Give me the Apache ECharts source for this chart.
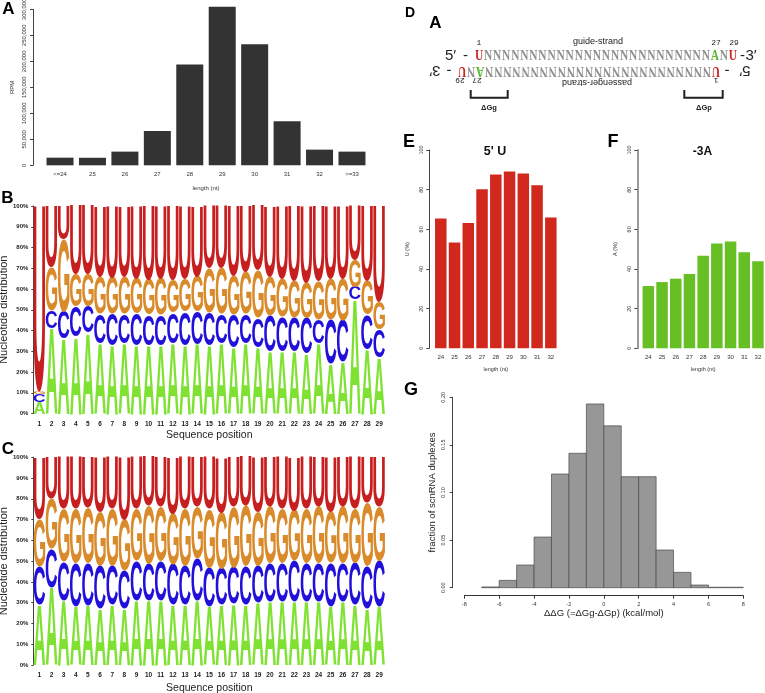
<!DOCTYPE html>
<html><head><meta charset="utf-8">
<script src="https://cdn.jsdelivr.net/npm/echarts@6/dist/echarts.min.js"></script>
<style>html,body{margin:0;padding:0;background:#fff}#c{width:765px;height:693px}</style>
</head><body><div id="c"></div>
<script>
// ---------------- DATA ----------------
const lengthCats = ['<=24','25','26','27','28','29','30','31','32','>=33'];
const rpmValues = [14700,14500,26300,66000,194000,305000,233000,84600,30100,26300];

const seqPositions = ['1','2','3','4','5','6','7','8','9','10','11','12','13','14','15','16','17','18','19','20','21','22','23','24','25','26','27','28','29'];
const nucleotides = ['A','C','G','U'];
// Panel B nucleotide percentages per position
const logoB_A = [5.5,41,36,37,39,34,33,34,33,33,33,34,33,33.5,33,34,32,34,32,30,30,30,29,34,24,25,55,31,27];
const logoB_C = [3.8,8.5,13,14.5,12.5,14,15,14,15,14.5,14.5,14.5,16,15.5,15.5,14,15.5,14,14,17,16.5,16.5,17,11.5,21.5,20,6,16.5,13.5];
const logoB_G = [1.2,21,35,15.5,15.5,18,17.5,18,17,17,17.5,16,16,17,21.5,22,19,20,23,19,18.5,17.5,17,18.5,19.5,20,13,16.5,13];
const logoB_U = [89.5,29.5,16,33,33,34,34.5,34,35,35.5,35,35.5,35,34,30,30,33.5,32,31,34,35,36,37,36,35,35,26,36,46.5];
// Panel C nucleotide percentages per position
const logoC_A = [29,37.5,31,28,28.5,27,29,27,31,31,31,29,29,31,28,29,29.5,29,30,30.5,30.5,30.5,30.5,30.5,28,30.5,29,27,28];
const logoC_C = [18.5,18.5,18.5,21,20.5,21,19,18.5,19,17.5,19,19.5,19,20,19,17.5,17.5,18.5,18,18.5,18.5,19.5,18.5,18.5,21,18.5,20,20.5,22];
const logoC_G = [23,24,25.5,26,26.5,26,27,24.5,25,28,26,24.5,27,25,28,27,29,29,26,27,26,24.5,26,27,25,27,26,30.5,26];
const logoC_U = [29.5,20,25,25,24.5,26,25,30,25,23.5,24,27,25,24,25,26.5,24,23.5,26,24,25,25.5,25,24,26,24,25,22,24];

const lenCatsEF = ['24','25','26','27','28','29','30','31','32'];
const fiveU = [65.5,53.4,63.2,80.2,87.7,89.1,88.1,82.2,66.0];
const minus3A = [31.4,33.4,35.1,37.5,46.7,52.9,53.8,48.4,43.9];

const ddgBinStart = [-7,-6,-5,-4,-3,-2,-1,0,1,2,3,4,5,6,7];
const ddgFraction = [0.0008,0.0077,0.0238,0.0532,0.1194,0.1412,0.193,0.170,0.1166,0.1166,0.0396,0.0161,0.0028,0.0005,0.0005];

const guideSeq = 'U' + 'N'.repeat(25) + 'ANU';
const passengerSeq = 'U' + 'N'.repeat(25) + 'ANU';

// ---------------- STYLE ----------------
const FF = 'Liberation Sans';
const ntColors = ['#7fe233','#2110da','#d98b2b','#c71f1f'];
const LOGO_FONT = 'bold 100px "Liberation Sans"';
const mc = document.createElement('canvas').getContext('2d');
const ink = {};
nucleotides.forEach(ch => {
  mc.font = LOGO_FONT; mc.textBaseline = 'middle'; mc.textAlign = 'left';
  const m = mc.measureText(ch);
  ink[ch] = {l: -m.actualBoundingBoxLeft, r: m.actualBoundingBoxRight, t: -m.actualBoundingBoxAscent, b: m.actualBoundingBoxDescent};
});

function logoItems(Aa, Cc, Gg, Uu) {
  const items = [];
  for (let i = 0; i < Aa.length; i++) {
    const vals = [Aa[i], Cc[i], Gg[i], Uu[i]];
    const tot = vals.reduce((a, b) => a + b, 0);
    let acc = 0;
    vals.forEach((v, k) => { const lo = acc / tot * 100; acc += v; items.push([i, lo, acc / tot * 100, k]); });
  }
  return items;
}
function logoRender(params, api) {
  const i = api.value(0), lo = api.value(1), hi = api.value(2), k = api.value(3);
  const band = api.size([1, 0])[0];
  const pLo = api.coord([i, lo]), pHi = api.coord([i, hi]);
  const w = band - 0.6, h = pLo[1] - pHi[1];
  if (h <= 0.2) return {type: 'group', children: []};
  const ch = nucleotides[k], b = ink[ch];
  const sx = w / (b.r - b.l), sy = h / (b.b - b.t);
  const left = pLo[0] - w / 2;
  return {type: 'text', x: left - b.l * sx, y: pHi[1] - b.t * sy, scaleX: sx, scaleY: sy,
    style: {text: ch, font: LOGO_FONT, fill: ntColors[k], align: 'left', verticalAlign: 'middle'}};
}
function histRender(params, api) {
  const x0 = api.value(0), h = api.value(1);
  const p0 = api.coord([x0, 0]), p1 = api.coord([x0 + 1, h]);
  return {type: 'rect', shape: {x: p0[0], y: p1[1], width: p1[0] - p0[0], height: p0[1] - p1[1]},
    style: {fill: '#979797', stroke: '#4a4a4a', lineWidth: 0.7}};
}

// ---------------- GRAPHIC TEXTS ----------------
const graphics = [];
function addText(txt, x, y, font, fill, extra) {
  graphics.push(Object.assign({type: 'text', x: x, y: y, silent: true,
    style: {text: txt, x: 0, y: 0, font: font, fill: fill, align: 'center', verticalAlign: 'middle'}}, extra || {}));
}
const bigBold = s => 'bold ' + s + 'px "Liberation Sans"';
addText('A', 8.5, 9.5, bigBold(17), '#000');
addText('B', 7.5, 198.5, bigBold(17), '#000');
addText('C', 8, 449.5, bigBold(17), '#000');
addText('D', 410, 13.3, bigBold(14), '#000');
addText('A', 435.5, 23.3, bigBold(17), '#000');
addText('E', 409, 141.7, bigBold(18), '#000');
addText('F', 613, 141.7, bigBold(18), '#000');
addText('G', 411, 390, bigBold(18), '#000');
addText("5' U", 495, 151.7, bigBold(12.5), '#111');
addText('-3A', 702.5, 152, bigBold(12), '#111');

// Panel D duplex diagram
const pitch = 9.07, topY = 56, botY = 70.5;
const ntFont = 'bold 15px "Liberation Serif"';
const ntCol = ch => ch === 'U' ? '#cf2222' : (ch === 'A' ? '#5dba2e' : '#8e8e8e');
for (let i = 0; i < guideSeq.length; i++) {
  addText(guideSeq[i], 479 + pitch * i, topY, ntFont, ntCol(guideSeq[i]), {scaleX: 0.76});
}
for (let i = 0; i < passengerSeq.length; i++) {
  addText(passengerSeq[i], 716 - pitch * i, botY, ntFont, ntCol(passengerSeq[i]), {scaleX: 0.76, rotation: Math.PI});
}
const endFont = '15px "Liberation Sans"';
addText('5\u2032', 450.5, topY, endFont, '#222');
addText('-', 465.5, topY, endFont, '#222');
addText('-', 742.5, topY, endFont, '#222');
addText('3\u2032', 751, topY, endFont, '#222');
addText('3\u2032', 435, botY, endFont, '#222', {rotation: Math.PI});
addText('-', 449, botY, endFont, '#222', {rotation: Math.PI});
addText('-', 727, botY, endFont, '#222', {rotation: Math.PI});
addText('5\u2032', 745, botY, endFont, '#222', {rotation: Math.PI});
const numFont = '8px "Liberation Mono"';
addText('1', 479, 43.3, numFont, '#222');
addText('27', 716, 43.3, numFont, '#222');
addText('29', 734, 43.3, numFont, '#222');
addText('29', 460, 80, numFont, '#222', {rotation: Math.PI});
addText('27', 477, 80, numFont, '#222', {rotation: Math.PI});
addText('1', 716, 80, numFont, '#222', {rotation: Math.PI});
addText('guide-strand', 598, 42, '9px "Liberation Sans"', '#222');
addText('passenger-strand', 597, 82, '9px "Liberation Sans"', '#222', {rotation: Math.PI});
graphics.push({type: 'polyline', silent: true, shape: {points: [[470.7, 90], [470.7, 97.7], [507.7, 97.7], [507.7, 90]]}, style: {stroke: '#222', lineWidth: 2, fill: null}});
graphics.push({type: 'polyline', silent: true, shape: {points: [[684.3, 90], [684.3, 97.7], [722.7, 97.7], [722.7, 90]]}, style: {stroke: '#222', lineWidth: 2, fill: null}});
addText('\u0394Gg', 489, 108.3, 'bold 7.5px "Liberation Sans"', '#222');
addText('\u0394Gp', 704, 108.3, 'bold 7.5px "Liberation Sans"', '#222');

// ---------------- AXES ----------------
const lab = (o) => Object.assign({fontFamily: FF, color: '#333'}, o);
const valueY = (gi, o) => Object.assign({
  type: 'value', gridIndex: gi,
  axisLine: {show: true, onZero: false, lineStyle: {color: '#444', width: 1}},
  axisTick: {show: true, inside: false, length: 3, lineStyle: {color: '#444'}},
  splitLine: {show: false}, nameLocation: 'middle'
}, o);
const catX = (gi, data, o) => Object.assign({
  type: 'category', gridIndex: gi, data: data,
  axisLine: {show: false}, axisTick: {show: false}, splitLine: {show: false}, nameLocation: 'middle'
}, o);

const gridBase = {containLabel: false, outerBoundsMode: 'none'};
const option = {
  animation: false,
  backgroundColor: '#fff',
  textStyle: {fontFamily: FF},
  grid: [
    Object.assign({left: 43.8, top: 9.3, width: 324.4, height: 156}, gridBase),
    Object.assign({left: 33.3, top: 206, width: 352, height: 207.5}, gridBase),
    Object.assign({left: 33.3, top: 457.3, width: 352, height: 207.7}, gridBase),
    Object.assign({left: 433.9, top: 150, width: 123.8, height: 198.3}, gridBase),
    Object.assign({left: 641.5, top: 150, width: 123.3, height: 198.3}, gridBase),
    Object.assign({left: 464.3, top: 397.3, width: 279, height: 190.4}, gridBase)
  ],
  xAxis: [
    catX(0, lengthCats, {axisLabel: lab({fontSize: 6, margin: 6, interval: 0}), name: 'length (nt)', nameGap: 20, nameTextStyle: lab({fontSize: 6})}),
    catX(1, seqPositions, {axisLabel: lab({fontSize: 6.5, fontWeight: 'bold', margin: 7, interval: 0, color: '#222'}), name: 'Sequence position', nameGap: 16, nameTextStyle: lab({fontSize: 10.5, color: '#222'})}),
    catX(2, seqPositions, {axisLabel: lab({fontSize: 6.5, fontWeight: 'bold', margin: 7, interval: 0, color: '#222'}), name: 'Sequence position', nameGap: 17.5, nameTextStyle: lab({fontSize: 10.5, color: '#222'})}),
    catX(3, lenCatsEF, {axisLabel: lab({fontSize: 6, margin: 6, interval: 0}), name: 'length (nt)', nameGap: 18.5, nameTextStyle: lab({fontSize: 5.5})}),
    catX(4, lenCatsEF, {axisLabel: lab({fontSize: 6, margin: 6, interval: 0}), name: 'length (nt)', nameGap: 18.5, nameTextStyle: lab({fontSize: 5.5})}),
    {type: 'value', gridIndex: 5, min: -8, max: 8, interval: 2, offset: 8,
      axisLine: {show: true, onZero: false, lineStyle: {color: '#333', width: 1}},
      axisTick: {show: true, length: 3, lineStyle: {color: '#333'}}, splitLine: {show: false},
      axisLabel: lab({fontSize: 5.5, margin: 6}),
      name: '\u0394\u0394G (=\u0394Gg-\u0394Gp) (kcal/mol)', nameLocation: 'middle', nameGap: 13, nameTextStyle: lab({fontSize: 9.5, color: '#222'})}
  ],
  yAxis: [
    valueY(0, {min: 0, max: 300000, interval: 50000, offset: 10.8, axisLabel: lab({fontSize: 6, rotate: 90, margin: 6}), name: 'RPM', nameGap: 18, nameTextStyle: lab({fontSize: 6})}),
    valueY(1, {min: 0, max: 100, interval: 10, axisTick: {show: true, length: 2, lineStyle: {color: '#444'}}, axisLabel: lab({fontSize: 6, fontWeight: 'bold', margin: 5, formatter: '{value}%', color: '#222'}), name: 'Nucleotide distribution', nameGap: 22.5, nameTextStyle: lab({fontSize: 11, color: '#222'})}),
    valueY(2, {min: 0, max: 100, interval: 10, axisTick: {show: true, length: 2, lineStyle: {color: '#444'}}, axisLabel: lab({fontSize: 6, fontWeight: 'bold', margin: 5, formatter: '{value}%', color: '#222'}), name: 'Nucleotide distribution', nameGap: 22.5, nameTextStyle: lab({fontSize: 11, color: '#222'})}),
    valueY(3, {min: 0, max: 100, interval: 20, offset: 4.6, axisLabel: lab({fontSize: 5.5, rotate: 90, margin: 5}), name: 'U (%)', nameGap: 18.5, nameTextStyle: lab({fontSize: 5.5})}),
    valueY(4, {min: 0, max: 100, interval: 20, offset: 4.2, axisLine: {show: true, onZero: false, lineStyle: {color: '#999', width: 2}}, axisLabel: lab({fontSize: 5.5, rotate: 90, margin: 5}), name: 'A (%)', nameGap: 18.5, nameTextStyle: lab({fontSize: 5.5})}),
    valueY(5, {min: 0, max: 0.2, interval: 0.05, offset: 11.6, axisLabel: lab({fontSize: 5.5, rotate: 90, margin: 6.5, formatter: v => v.toFixed(2)}), name: 'fraction of scnRNA duplexes', nameGap: 15, nameTextStyle: lab({fontSize: 9.5, color: '#222'})})
  ],
  series: [
    {type: 'bar', xAxisIndex: 0, yAxisIndex: 0, data: rpmValues, barWidth: 27, clip: false, itemStyle: {color: '#333333'}},
    {type: 'custom', xAxisIndex: 1, yAxisIndex: 1, data: logoItems(logoB_A, logoB_C, logoB_G, logoB_U), encode: {x: 0, y: [1, 2]}, renderItem: logoRender, clip: false},
    {type: 'custom', xAxisIndex: 2, yAxisIndex: 2, data: logoItems(logoC_A, logoC_C, logoC_G, logoC_U), encode: {x: 0, y: [1, 2]}, renderItem: logoRender, clip: false},
    {type: 'bar', xAxisIndex: 3, yAxisIndex: 3, data: fiveU, barWidth: 11.5, itemStyle: {color: '#d1281e'}},
    {type: 'bar', xAxisIndex: 4, yAxisIndex: 4, data: minus3A, barWidth: 11.5, itemStyle: {color: '#66bf23'}},
    {type: 'custom', xAxisIndex: 5, yAxisIndex: 5, data: ddgBinStart.map((x, i) => [x, ddgFraction[i]]), encode: {x: 0, y: 1}, renderItem: histRender}
  ],
  graphic: graphics
};
const chart = echarts.init(document.getElementById('c'), null, {renderer: 'canvas', width: 765, height: 693});
chart.setOption(option);
</script>
</body></html>
